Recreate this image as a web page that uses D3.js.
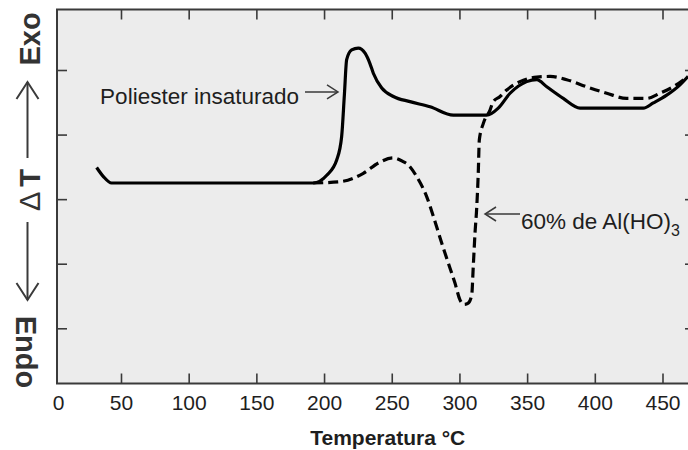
<!DOCTYPE html>
<html>
<head>
<meta charset="utf-8">
<script src="https://cdn.jsdelivr.net/npm/d3@7"></script>
<style>
  html, body { margin: 0; padding: 0; background: #ffffff; }
  svg { display: block; font-family: "Liberation Sans", Arial, Helvetica, sans-serif; }
</style>
</head>
<body>
<svg id="chart" width="688" height="450"></svg>
<script>
// Temperature axis ticks (°C) and ΔT tick positions (arbitrary units)
const tempTicks = [0, 50, 100, 150, 200, 250, 300, 350, 400, 450];
const dtTicks = [1, 2, 3, 4, 5];

// DTA curve: unsaturated polyester resin
const poliesterTemp = [32, 37, 43, 100, 150, 192, 202, 209.4, 213, 215, 216.7, 220.4, 225.3, 230.3,
  233.9, 236.4, 242.6, 251.2, 263.5, 278.3, 295.5, 320.1, 328.7, 337.4, 349.7, 357.1, 364.5,
  376.7, 389.1, 435.8, 443.2, 453.1, 462.9, 468.8];
const poliesterDT = [3.49, 3.35, 3.25, 3.25, 3.25, 3.25, 3.37, 3.61, 3.97, 4.61, 5.16, 5.31, 5.34, 5.26,
  5.10, 4.95, 4.72, 4.59, 4.51, 4.43, 4.30, 4.30, 4.41, 4.64, 4.82, 4.85, 4.74,
  4.56, 4.41, 4.41, 4.49, 4.61, 4.77, 4.90];

// DTA curve: resin filled with 60% Al(OH)3
const aluminaTemp = [192, 211.8, 229.0, 240.1, 251, 258.5, 262.2, 268.4, 275.8, 282.0, 286.9, 291.8,
  296.7, 300.4, 303.5, 306.5, 309.1, 310.2, 311.5, 312.8, 313.9, 314.7, 317.6, 322.6, 325.0,
  330.0, 334.9, 344.7, 357.1, 366.9, 379.2, 394.0, 408.8, 423.5, 438.3, 448.1, 457.9, 468.8];
const aluminaDT = [3.25, 3.27, 3.40, 3.56, 3.64, 3.58, 3.53, 3.35, 3.04, 2.65, 2.32, 2.01,
  1.70, 1.44, 1.37, 1.39, 1.52, 1.95, 2.47, 2.88, 3.40, 3.92, 4.17, 4.38, 4.51,
  4.59, 4.69, 4.82, 4.89, 4.90, 4.85, 4.74, 4.64, 4.56, 4.56, 4.64, 4.74, 4.90];

const svg = d3.select("#chart");
const plot = { left: 57, right: 695, top: 9.5, bottom: 383.5 };
const frameColor = "#3a3a3a";
const textColor = "#1e1e1e";
const tickLen = 10;

const x = d3.scaleLinear().domain([0, 450]).range([53.3, 662.5]);
const y = d3.scaleLinear().domain([0.145, 5.937]).range([plot.bottom, plot.top]);

// plot background
svg.append("rect")
  .attr("x", plot.left).attr("y", plot.top)
  .attr("width", plot.right - plot.left).attr("height", plot.bottom - plot.top)
  .attr("fill", "#ececec");

svg.append("defs").append("clipPath").attr("id", "plotClip")
  .append("rect")
  .attr("x", plot.left).attr("y", plot.top)
  .attr("width", plot.right - plot.left).attr("height", plot.bottom - plot.top);

// inward ticks on all four sides
const innerTicks = tempTicks.filter(d => x(d) > plot.left);
function styleAxis(g) {
  g.select(".domain").remove();
  g.selectAll(".tick line").attr("stroke", frameColor).attr("stroke-width", 1.6);
}
svg.append("g").attr("transform", `translate(0,${plot.top})`)
  .call(d3.axisTop(x).tickValues(innerTicks).tickSize(-tickLen).tickFormat(""))
  .call(styleAxis);
svg.append("g").attr("transform", `translate(${plot.left},0)`)
  .call(d3.axisLeft(y).tickValues(dtTicks).tickSize(-tickLen).tickFormat(""))
  .call(styleAxis);
svg.append("g").attr("transform", `translate(${plot.right},0)`)
  .call(d3.axisRight(y).tickValues(dtTicks).tickSize(-tickLen).tickFormat(""))
  .call(styleAxis);

const xAxis = svg.append("g").attr("transform", `translate(0,${plot.bottom})`)
  .call(d3.axisBottom(x).tickValues(tempTicks).tickSize(-tickLen).tickPadding(11.5).tickFormat(d3.format("d")))
  .call(styleAxis);
xAxis.selectAll(".tick text")
  .attr("fill", textColor).attr("font-size", 21)
  .attr("font-family", "\"Liberation Sans\", Arial, sans-serif");
// origin tick sits at the frame corner: keep its label, drop its mark
xAxis.selectAll(".tick").filter(d => x(d) <= plot.left)
  .attr("transform", d => `translate(${plot.left + 1.5},0)`)
  .select("line").remove();

// curves
const line = d3.line()
  .x(d => x(d[0])).y(d => y(d[1]))
  .curve(d3.curveMonotoneX);
const curves = svg.append("g").attr("clip-path", "url(#plotClip)");
curves.append("path")
  .datum(poliesterTemp.map((t, i) => [t, poliesterDT[i]]))
  .attr("d", line)
  .attr("fill", "none").attr("stroke", "#000").attr("stroke-width", 3.2)
  .attr("stroke-linejoin", "round");
curves.append("path")
  .datum(aluminaTemp.map((t, i) => [t, aluminaDT[i]]))
  .attr("d", line)
  .attr("fill", "none").attr("stroke", "#000").attr("stroke-width", 3.2)
  .attr("stroke-dasharray", "10,5");

// frame
svg.append("rect")
  .attr("x", plot.left).attr("y", plot.top)
  .attr("width", plot.right - plot.left).attr("height", plot.bottom - plot.top)
  .attr("fill", "none").attr("stroke", frameColor).attr("stroke-width", 2);

// axis title
svg.append("text")
  .attr("x", (x(200) + x(300)) / 2 - 4).attr("y", 445)
  .attr("text-anchor", "middle")
  .attr("font-size", 21).attr("font-weight", "bold").attr("fill", textColor)
  .text("Temperatura °C");

// ΔT label with Endo / Exo arrows; each word reads outward from its arrow
const arrowColor = "#3a3a3a";
function arrow(g, x1, y1, x2, y2, headLen, headHalf, width) {
  const ang = Math.atan2(y2 - y1, x2 - x1);
  g.append("line").attr("x1", x1).attr("y1", y1).attr("x2", x2).attr("y2", y2)
    .attr("stroke", arrowColor).attr("stroke-width", width);
  const bx = x2 - headLen * Math.cos(ang), by = y2 - headLen * Math.sin(ang);
  const nx = -Math.sin(ang) * headHalf, ny = Math.cos(ang) * headHalf;
  g.append("polyline")
    .attr("points", `${bx + nx},${by + ny} ${x2},${y2} ${bx - nx},${by - ny}`)
    .attr("fill", "none").attr("stroke", arrowColor).attr("stroke-width", width)
    .attr("stroke-linejoin", "miter");
}
const yLabel = svg.append("g");
const up = yLabel.append("g").attr("transform", "rotate(-90)");
up.append("text").attr("x", -39).attr("y", 40).attr("text-anchor", "middle")
  .attr("font-size", 29).attr("font-weight", "bold").attr("fill", "#333").text("Exo");
const dT = up.append("text").attr("x", -190).attr("y", 40).attr("text-anchor", "middle")
  .attr("font-size", 29).attr("fill", "#333");
dT.append("tspan").text("Δ");
dT.append("tspan").attr("dx", 5).attr("font-weight", "bold").text("T");
const down = yLabel.append("g").attr("transform", "rotate(90)");
down.append("text").attr("x", 352).attr("y", -16).attr("text-anchor", "middle")
  .attr("font-size", 29).attr("font-weight", "bold").attr("fill", "#333").text("Endo");
arrow(yLabel, 27.5, 158, 27.5, 82, 17, 11, 2);
arrow(yLabel, 27.5, 222, 27.5, 300, 17, 11, 2);

// annotations
const ann = svg.append("g");
const tipA = [x(210.3), y(4.66)];
arrow(ann, tipA[0] - 33, tipA[1], tipA[0], tipA[1], 11, 7, 1.5);
ann.append("text").attr("x", tipA[0] - 39).attr("y", tipA[1] + 12)
  .attr("text-anchor", "end").attr("font-size", 22.5).attr("fill", textColor)
  .text("Poliester insaturado");

const tipB = [x(318.9), y(2.77)];
arrow(ann, tipB[0] + 35, tipB[1], tipB[0], tipB[1], 11, 7, 1.5);
const tB = ann.append("text").attr("x", tipB[0] + 36).attr("y", tipB[1] + 15)
  .attr("font-size", 22.5).attr("fill", textColor);
tB.append("tspan").text("60% de Al(HO)");
tB.append("tspan").attr("font-size", 16).attr("dy", 7).text("3");
</script>
</body>
</html>
